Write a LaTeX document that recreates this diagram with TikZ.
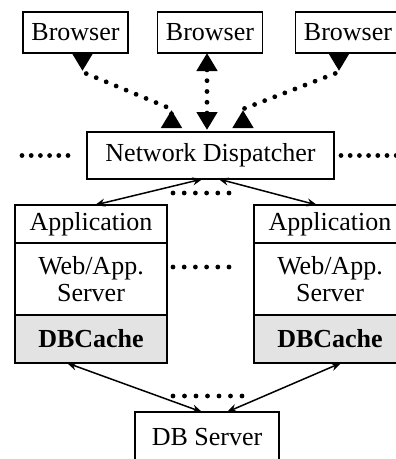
\documentclass[tikz,border=0pt]{standalone}
\usepackage{fontspec}
\setmainfont{Liberation Serif}
\usetikzlibrary{arrows.meta,positioning}

\tikzset{
    box/.style={draw, line width=1.6pt, inner sep=0pt, outer sep=0pt, align=center},
    cache/.style={fill=black!11, font=\fontsize{26}{27}\selectfont\bfseries},
    dotline/.style={line width=4.8pt, line cap=round, dash pattern=on 0pt off #1},
    dotline/.default=10.8pt,
    tri/.tip={Triangle[length=18pt, width=20pt]},
    rtri/.tip={Triangle[length=18pt, width=20pt, reversed]},
    link/.style={line width=1.5pt, {Stealth[length=10pt, width=8pt]}-{Stealth[length=10pt, width=8pt]}}
}

\begin{document}
\begin{tikzpicture}[x=1pt, y=-1pt, font=\fontsize{26}{27}\selectfont]
        \useasboundingbox (0,0) rectangle (396,459);
        \clip (0,0) rectangle (396,459);

        \foreach \i/\x in {1/75.5, 2/210, 3/348}
            \node[box, minimum width=105pt, minimum height=41pt] (b\i) at (\x,32.5) {Browser};

        \node[box, minimum width=247pt, minimum height=47pt] (disp) at (210.5,155.5) {Network Dispatcher};

        \foreach \i/\x in {1/91, 2/330}
        {
            \node[box, minimum width=152pt, minimum height=38pt] (app\i) at (\x,224) {Application};
            \node[box, minimum width=152pt, minimum height=72pt, below=0pt of app\i] (web\i) {Web/App.\\Server};
            \node[box, cache, minimum width=152pt, minimum height=48pt, below=0pt of web\i] (cache\i) {DBCache};
        }

        \node[box, minimum width=144pt, minimum height=50pt, anchor=north] (db) at (207,412) {DB Server};

        \draw[dotline, {rtri}-{rtri}] ([xshift=7pt]b1.south) -- ++(0,19)
            -- ([xshift=-39pt,yshift=23pt]disp.north) -- ([xshift=-39pt,yshift=4pt]disp.north);
        \draw[dotline, {tri}-{tri}] ([xshift=-3pt]b2.south) -- ([xshift=-3.5pt,yshift=2pt]disp.north);
        \draw[dotline, {rtri}-{rtri}] ([xshift=-9pt]b3.south) -- ++(0,19)
            -- ([xshift=32.5pt,yshift=23pt]disp.north) -- ([xshift=32.5pt,yshift=4pt]disp.north);

        \draw[dotline=9.2pt] ([xshift=-19pt]disp.west) -- ++(-55,0);
        \draw[dotline=9.2pt] ([xshift=7pt]disp.east) -- ++(70,0);
        \draw[dotline=11.2pt] ([xshift=-37.5pt,yshift=-14pt]disp.south) -- ++(67,0);
        \draw[dotline=11.2pt] ([xshift=6pt,yshift=12pt]web1.east) -- ++(67,0);
        \draw[dotline=11.5pt] ([xshift=-34pt,yshift=16pt]db.north) -- ++(69,0);

        \draw[link] ([xshift=-8pt]disp.south) -- ([xshift=4pt]app1.north);
        \draw[link] ([xshift=8pt]disp.south) -- ([xshift=-13pt]app2.north);
        \draw[link] ([xshift=-24pt]cache1.south) -- ([xshift=-5pt]db.north);
        \draw[link] ([xshift=11pt]cache2.south) -- ([xshift=20pt]db.north);
    \end{tikzpicture}
\end{document}
